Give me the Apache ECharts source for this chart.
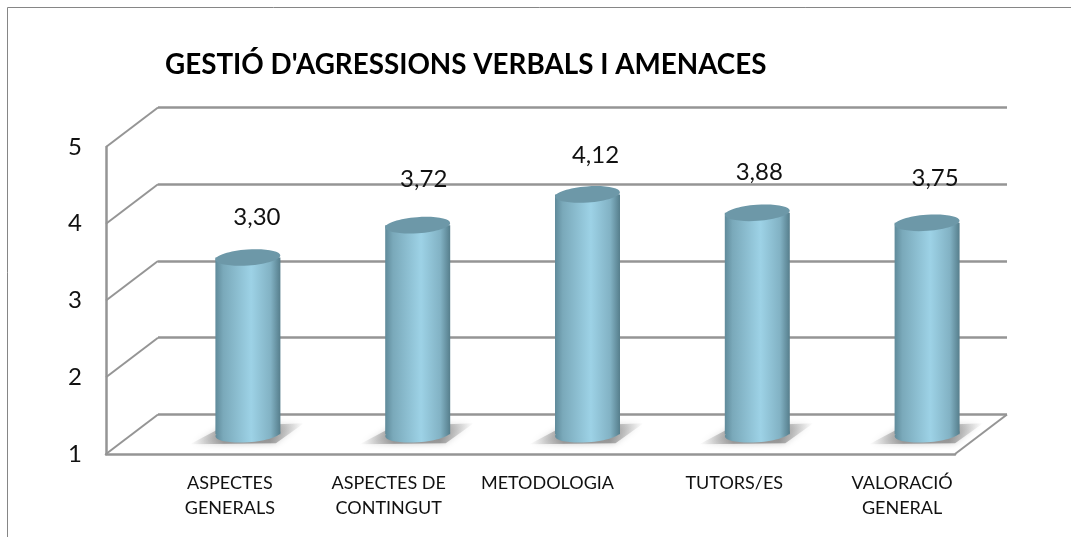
<!DOCTYPE html>
<html>
<head>
<meta charset="utf-8">
<style>
  html, body { margin: 0; padding: 0; background: #fff; }
  #chart { width: 1071px; height: 537px; }
</style>
<script src="https://cdn.jsdelivr.net/npm/echarts@6/dist/echarts.min.js"></script>
</head>
<body>
<div id="chart"></div>
<script>
const titleText = "GESTIÓ D'AGRESSIONS VERBALS I AMENACES"
const categories = ['ASPECTES\nGENERALS', 'ASPECTES DE\nCONTINGUT', 'METODOLOGIA', 'TUTORS/ES', 'VALORACIÓ\nGENERAL']
const values = [3.30, 3.72, 4.12, 3.88, 3.75]
const yTicks = [1, 2, 3, 4, 5]

// nudges of the labels, in px, the source chart placed them by hand
const categoryLabelDx = [39, 28, 17, 34, 32]
const valueLabelDx = [9, 6, 8, 2, 8]
const valueLabelDy = [-40, -46, -39, -41, -45]

// depth of the fake 3D box
const depthX = 52
const depthY = -39.5
const lineColor = '#959595'
const lineWidth = 2.5
const fontName = 'Lato, "Open Sans", sans-serif'

const chart = echarts.init(document.getElementById('chart'))

// side lines joining the front axis and the back wall
function renderDepthLine(params, api) {
  const v = api.value(0)
  const band = api.size([1, 0])[0]
  const start = api.coord([0, v])
  const leftX = start[0] - band / 2
  const items = [{
    type: 'line',
    shape: { x1: leftX, y1: start[1], x2: leftX + depthX, y2: start[1] + depthY },
    style: { stroke: lineColor, lineWidth: 2 }
  }]
  if (v === yTicks[0]) {
    const rightX = leftX + band * categories.length
    items.push({
      type: 'line',
      shape: { x1: rightX, y1: start[1], x2: rightX + depthX, y2: start[1] + depthY },
      style: { stroke: lineColor, lineWidth: 2 }
    })
  }
  return { type: 'group', children: items }
}

// cylinder standing in the middle of the depth
function renderCylinder(params, api) {
  const i = api.value(0)
  const top = api.coord([i, api.value(1)])
  const base = api.coord([i, yTicks[0]])
  const cx = top[0] + 5
  const topY = top[1] - depthY / 2
  const baseY = base[1] - depthY / 2
  const r = 32.5
  const ry = 8
  const tilt = 0.07
  const bodyFill = new echarts.graphic.LinearGradient(0, 0, 1, 0, [
    { offset: 0, color: '#5f8a9a' },
    { offset: 0.12, color: '#7aa9ba' },
    { offset: 0.55, color: '#9dd2e6' },
    { offset: 0.85, color: '#82b2c4' },
    { offset: 1, color: '#567e8c' }
  ])
  const shadowFill = new echarts.graphic.LinearGradient(0, 0, 1, 0, [
    { offset: 0, color: 'rgba(150,150,150,0)' },
    { offset: 0.3, color: 'rgba(130,130,130,0.75)' },
    { offset: 0.7, color: 'rgba(130,130,130,0.75)' },
    { offset: 1, color: 'rgba(150,150,150,0)' }
  ])
  return {
    type: 'group',
    children: [
      {
        type: 'polygon',
        shape: { points: [[cx - 58, baseY + 10], [cx - 24, baseY - 8], [cx + 56, baseY - 11], [cx + 28, baseY + 9]] },
        style: { fill: shadowFill, shadowBlur: 6, shadowColor: 'rgba(150,150,150,0.7)' }
      },
      {
        type: 'ellipse',
        x: cx, y: baseY, rotation: tilt,
        shape: { cx: 0, cy: 0, rx: r, ry: ry },
        style: { fill: bodyFill }
      },
      {
        type: 'rect',
        shape: { x: cx - r, y: topY, width: r * 2, height: baseY - topY },
        style: { fill: bodyFill }
      },
      {
        type: 'ellipse',
        x: cx, y: topY, rotation: tilt,
        shape: { cx: 0, cy: 0, rx: r, ry: ry },
        style: { fill: '#6d98a8' }
      },
      {
        type: 'text',
        x: cx + valueLabelDx[i],
        y: topY + valueLabelDy[i],
        style: {
          text: api.value(1).toFixed(2).replace('.', ','),
          font: '24px ' + fontName,
          fill: '#111',
          align: 'center',
          verticalAlign: 'middle'
        }
      }
    ]
  }
}

// category labels under the front axis
function renderCategoryLabel(params, api) {
  const i = api.value(0)
  const p = api.coord([i, yTicks[0]])
  return {
    type: 'text',
    x: p[0] + categoryLabelDx[i],
    y: p[1] + 16,
    style: {
      text: categories[i],
      font: '18px ' + fontName,
      fill: '#111',
      align: 'center',
      verticalAlign: 'top',
      lineHeight: 25.5
    }
  }
}

const option = {
  backgroundColor: '#fff',
  animation: false,
  title: {
    text: titleText,
    left: 160,
    top: 46,
    textStyle: { fontFamily: fontName, fontWeight: 'bold', fontSize: 27.8, color: '#000' }
  },
  grid: [
    { left: 106, top: 147, width: 849, height: 307 },
    { left: 158, top: 107, width: 849, height: 307.5 }
  ],
  xAxis: [
    {
      gridIndex: 0,
      type: 'category',
      data: categories,
      axisLine: { lineStyle: { color: lineColor, width: lineWidth } },
      axisTick: { show: false },
      axisLabel: { show: false }
    },
    {
      gridIndex: 1,
      type: 'category',
      data: categories,
      show: false
    }
  ],
  yAxis: [
    {
      gridIndex: 0,
      type: 'value',
      min: 1,
      max: 5,
      interval: 1,
      axisLine: { show: true, lineStyle: { color: lineColor, width: lineWidth } },
      axisTick: { show: false },
      splitLine: { show: false },
      axisLabel: { margin: 24, fontFamily: fontName, fontSize: 24, color: '#111' }
    },
    {
      gridIndex: 1,
      type: 'value',
      min: 1,
      max: 5,
      interval: 1,
      axisLine: { show: false },
      axisTick: { show: false },
      axisLabel: { show: false },
      splitLine: { lineStyle: { color: lineColor, width: lineWidth } }
    }
  ],
  series: [
    {
      type: 'custom',
      xAxisIndex: 0,
      yAxisIndex: 0,
      renderItem: renderDepthLine,
      encode: { y: 0 },
      data: yTicks.map(v => [v]),
      silent: true,
      clip: false,
      z: 1
    },
    {
      type: 'custom',
      xAxisIndex: 0,
      yAxisIndex: 0,
      renderItem: renderCategoryLabel,
      encode: { x: 0 },
      data: categories.map((c, i) => [i]),
      silent: true,
      clip: false,
      z: 3
    },
    {
      type: 'custom',
      xAxisIndex: 1,
      yAxisIndex: 1,
      renderItem: renderCylinder,
      encode: { x: 0, y: 1 },
      data: values.map((v, i) => [i, v]),
      clip: false,
      z: 4
    }
  ],
  graphic: [
    {
      type: 'polyline',
      shape: { points: [[7.5, 537], [7.5, 7.5], [1071, 7.5]] },
      style: { stroke: '#868686', fill: null, lineWidth: 1 },
      silent: true
    }
  ]
}

chart.setOption(option)
</script>
</body>
</html>
